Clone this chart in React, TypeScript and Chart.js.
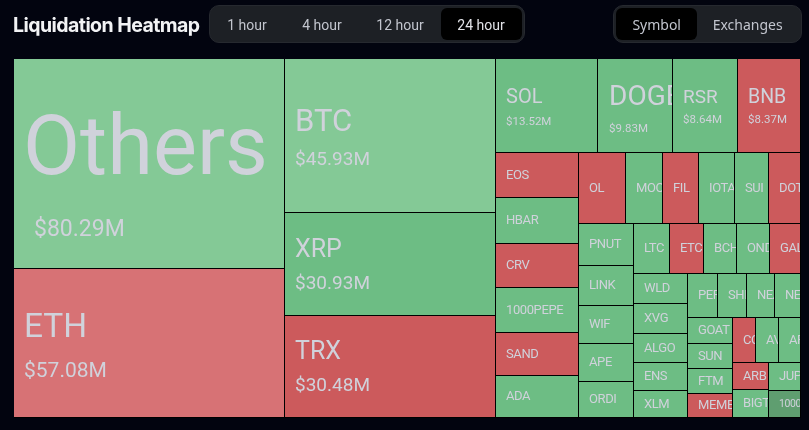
import React, { useEffect, useRef } from "react";
import { Chart, DatasetController, Element, LinearScale } from "chart.js";

const symbols = ["Others","ETH","BTC","XRP","TRX","SOL","DOGE","RSR","BNB","EOS","HBAR","CRV","1000PEPE","SAND","ADA","OL","MOODENG","FIL","IOTA","SUI","DOT","PNUT","LINK","WIF","APE","ORDI","LTC","ETC","BCH","ONDO","GALA","WLD","XVG","ALGO","ENS","XLM","PEPE","SHIB","NEAR","NEO","GOAT","SUN","FTM","MEME","COMP","AVAX","APT","ARB","BIGTIME","JUP","1000CAT"];
const values = [80.29,57.08,45.93,30.93,30.48,13.52,9.83,8.64,8.37,5.35,5.35,5.25,5.25,5.05,4.95,4.76,3.75,3.65,3.65,3.45,3.24,3.27,3.11,2.96,2.96,2.8,2.53,2.39,2.32,2.32,2.19,2.25,2.25,2.17,2.1,2.03,1.91,1.79,1.73,1.61,1.66,1.59,1.59,1.53,1.51,1.45,1.38,1.36,1.44,1.28,1.22];
const tones = ["gainHigh","lossHigh","gainHigh","gain","loss","gain","gain","gain","loss","loss","gain","loss","gain","loss","gain","loss","gain","loss","gain","gain","loss","gain","gain","gain","gain","gain","gain","loss","gain","gain","loss","gain","gain","gain","gain","gain","gain","gain","gain","gain","gain","gain","gain","loss","loss","gain","gain","loss","gain","gain","muted"];
const shownValues = ["Others","ETH","BTC","XRP","TRX","SOL","DOGE","RSR","BNB"];

// Nesting of the treemap: first item is the split direction.
const tree: any = ["h",
  ["v","Others","ETH"],
  ["v","BTC","XRP","TRX"],
  ["v",
    ["h","SOL","DOGE","RSR","BNB"],
    ["h",
      ["v","EOS","HBAR","CRV","1000PEPE","SAND","ADA"],
      ["v",
        ["h","OL","MOODENG","FIL","IOTA","SUI","DOT"],
        ["h",
          ["v","PNUT","LINK","WIF","APE","ORDI"],
          ["v",
            ["h","LTC","ETC","BCH","ONDO","GALA"],
            ["h",
              ["v","WLD","XVG","ALGO","ENS","XLM"],
              ["v",
                ["h","PEPE","SHIB","NEAR","NEO"],
                ["h",
                  ["v","GOAT","SUN","FTM","MEME"],
                  ["v",
                    ["h","COMP","AVAX","APT"],
                    ["h",["v","ARB","BIGTIME"],["v","JUP","1000CAT"]],
                  ],
                ],
              ],
            ],
          ],
        ],
      ],
    ],
  ],
];

const toneColors: Record<string, string> = { gain: "#6DBD84", gainHigh: "#84C996", loss: "#CC5A5C", lossHigh: "#D77275", muted: "#5F9E70" };
const textColor = "#D0D2DB";
const labelFont = "Roboto, sans-serif";
// name size, value size, name offset, value offset (from cell centre), left inset of name, of value
const labelStyles: Record<string, number[]> = {
  Others: [83, 23, -11, 66, 9, 20],
  ETH: [33.5, 21, -15, 28, 10, 10],
  BTC: [31, 19, -13, 24, 10, 10],
  XRP: [25, 19, -14, 20, 10, 10],
  TRX: [25, 19, -14, 19, 10, 10],
  SOL: [20, 11.5, -8, 16, 10, 10],
  DOGE: [28, 11.5, -8, 23, 11, 11],
  RSR: [19, 11.5, -8, 14, 10, 10],
  BNB: [19.5, 11.5, -8, 14, 10, 10],
};
const smallSize = 13;
const tinySymbols = ["1000CAT"];
const tinySize = 10.5;

const sumOf = (node: any): number => typeof node === "string" ? values[symbols.indexOf(node)] : node.slice(1).reduce((s: number, k: any) => s + sumOf(k), 0);

function layout(node: any, x0: number, y0: number, x1: number, y1: number, out: Record<string, number[]>) {
  if (typeof node === "string") { out[node] = [x0, y0, x1, y1]; return; }
  const total = sumOf(node);
  let pos = node[0] === "h" ? x0 : y0;
  for (const kid of node.slice(1)) {
    const span = (sumOf(kid) / total) * (node[0] === "h" ? x1 - x0 : y1 - y0);
    if (node[0] === "h") layout(kid, pos, y0, pos + span, y1, out);
    else layout(kid, x0, pos, x1, pos + span, out);
    pos += span;
  }
}

class TreemapCell extends Element<any, any> {
  static id = "treemapCell";
  static defaults = {};
  draw(ctx: CanvasRenderingContext2D) {
    const { left, top, right, bottom, name, amount, color } = this as any;
    const w = right - left, h = bottom - top;
    ctx.save();
    ctx.fillStyle = "#000";
    ctx.fillRect(left, top, w, h);
    ctx.fillStyle = color;
    ctx.fillRect(left, top, w - 1, h - 1);
    ctx.beginPath();
    ctx.rect(left, top, w - 1, h - 1);
    ctx.clip();
    ctx.fillStyle = textColor;
    ctx.textBaseline = "middle";
    ctx.textAlign = "left";
    const mid = (top + bottom) / 2;
    const s = labelStyles[name];
    if (s && shownValues.includes(name)) {
      ctx.font = `${s[0]}px ${labelFont}`;
      ctx.fillText(name, left + s[4], mid + s[2]);
      ctx.font = `${s[1]}px ${labelFont}`;
      ctx.fillText("$" + amount.toFixed(2) + "M", left + s[5], mid + s[3]);
    } else {
      ctx.font = `${tinySymbols.includes(name) ? tinySize : smallSize}px ${labelFont}`;
      (ctx as any).letterSpacing = "-0.4px";
      ctx.fillText(name, left + 10, mid);
    }
    ctx.restore();
  }
}

class TreemapController extends DatasetController {
  static id = "treemap";
  static defaults = { datasetElementType: false, dataElementType: "treemapCell" };
  static overrides = { scales: { x: { type: "linear" }, y: { type: "linear" } } };
  update() {
    const meta: any = this._cachedMeta;
    const { xScale, yScale } = meta;
    const rects: Record<string, number[]> = {};
    layout(tree, xScale.min, yScale.max, xScale.max, yScale.min, rects);
    const ds: any = this.getDataset();
    meta.data.forEach((el: any, i: number) => {
      const name = (this.chart.data.labels as string[])[i];
      const r = rects[name];
      Object.assign(el, {
        left: Math.round(xScale.getPixelForValue(r[0])),
        top: Math.round(yScale.getPixelForValue(r[1])),
        right: Math.round(xScale.getPixelForValue(r[2])),
        bottom: Math.round(yScale.getPixelForValue(r[3])),
        x: 0, y: 0,
        name,
        amount: ds.data[i],
        color: ds.backgroundColor[i],
      });
    });
  }
}

Chart.register(LinearScale, TreemapCell as any, TreemapController as any);

const sans = "'Noto Sans', sans-serif";
const tabs = [["1 hour", 247], ["4 hour", 322], ["12 hour", 400], ["24 hour", 481]] as const;
const modes = [["Symbol", 656.7], ["Exchanges", 747.7]] as const;

const box = (l: number, r: number, t: number, b: number, bg: string, radius: number, extra: any = {}): any => ({
  position: "absolute", left: l, top: t, width: r - l, height: b - t, background: bg, borderRadius: radius, boxSizing: "border-box", ...extra,
});
const centred = (cx: number, color: string, font: string): any => ({
  position: "absolute", left: cx - 60, width: 120, top: 12, height: 26, lineHeight: "26px", textAlign: "center", color, fontFamily: font, fontSize: 14,
});

export default function App() {
  const ref = useRef<HTMLCanvasElement>(null);
  useEffect(() => {
    document.body.style.margin = "0";
    document.body.style.background = "#02040F";
    const chart = new Chart(ref.current!, {
      type: "treemap" as any,
      data: {
        labels: symbols,
        datasets: [{ data: values, backgroundColor: tones.map((t) => toneColors[t]) } as any],
      },
      options: {
        animation: false,
        responsive: false,
        events: [],
        layout: { padding: { left: 14, top: 59, right: 8, bottom: 12 } },
        scales: {
          x: { type: "linear", display: false, min: 0, max: 1 },
          y: { type: "linear", display: false, min: 0, max: 1 },
        },
      } as any,
    });
    return () => chart.destroy();
  }, []);
  return (
    <div style={{ position: "absolute", left: 0, top: 0, width: 809, height: 430, background: "#02040F", overflow: "hidden" }}>
      <canvas ref={ref} width={809} height={430} style={{ position: "absolute", left: 0, top: 0 }} />
      <div style={{ position: "absolute", left: 13, top: 10, height: 30, lineHeight: "30px", color: "#F2F3F5", fontFamily: "Inter, sans-serif", fontWeight: 700, fontSize: 19.5, letterSpacing: "-0.55px", whiteSpace: "nowrap" }}>Liquidation Heatmap</div>
      <div style={box(209, 525, 5, 43, "#1D2025", 10, { border: "1px solid #26292F" })} />
      <div style={box(441, 522, 8, 40, "#000", 6)} />
      {tabs.map(([t, cx], i) => <div key={t} style={centred(cx, i === 3 ? "#E2E3E8" : "#C2C5CE", "Roboto, sans-serif")}>{t}</div>)}
      <div style={box(613, 802, 5, 43, "#1D2025", 10, { border: "1px solid #26292F" })} />
      <div style={box(616, 697, 8, 40, "#000", 6)} />
      {modes.map(([t, cx]) => <div key={t} style={centred(cx, "#C2C5CE", sans)}>{t}</div>)}
    </div>
  );
}
